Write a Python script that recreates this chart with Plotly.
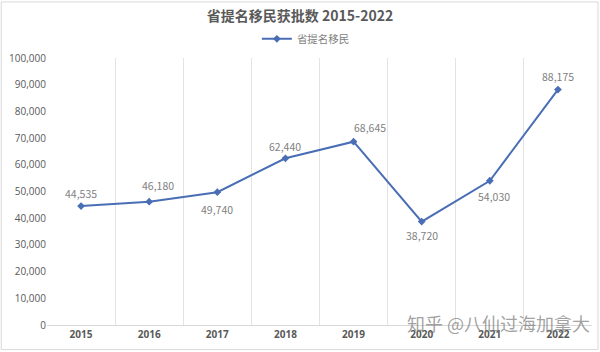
import plotly.graph_objects as go

years = ["2015", "2016", "2017", "2018", "2019", "2020", "2021", "2022"]
values = [44535, 46180, 49740, 62440, 68645, 38720, 54030, 88175]
series_name = "省提名移民"
title_text = "省提名移民获批数 2015-2022"
y_ticks = list(range(0, 100001, 10000))

# label offsets in pixels (ax, ay) and whether to draw a leader line
label_offsets = [(0, -13, False), (9, -16, True), (0, 17, False), (0, -12, False),
                 (16, -14, True), (0, 14, False), (4, 16, True), (0, -13, False)]

LINE = "#4A6EB5"
GRAY = "#7F7F7F"
FONT = "Noto Sans CJK SC, Noto Sans, sans-serif"

fig = go.Figure()
fig.add_trace(go.Scatter(
    x=years, y=values, mode="lines+markers", name=series_name,
    line=dict(color=LINE, width=2),
    marker=dict(symbol="diamond", size=6, color=LINE),
))

for i, (v, (ax, ay, arrow)) in enumerate(zip(values, label_offsets)):
    fig.add_annotation(
        x=i, y=v, text=f"{v:,}", showarrow=True, ax=ax, ay=ay,
        arrowhead=0, arrowwidth=1, arrowcolor="#BFBFBF" if arrow else "rgba(0,0,0,0)",
        standoff=3, startstandoff=6 if arrow else 0,
        font=dict(size=10.5, color=GRAY, family=FONT),
    )

fig.add_annotation(
    xref="paper", yref="paper", x=1.0, y=-0.05, xanchor="right", yanchor="bottom",
    text="知乎 @八仙过海加拿大", showarrow=False,
    font=dict(size=18, color="rgba(120,120,120,0.7)", family=FONT),
)

fig.add_shape(type="rect", xref="paper", yref="paper",
              x0=-0.084, x1=1.011, y0=-0.092, y1=1.21,
              line=dict(color="#D9D9D9", width=1), fillcolor="rgba(0,0,0,0)", layer="below")

fig.update_layout(
    width=600, height=352,
    margin=dict(l=47, r=8, t=58, b=27),
    paper_bgcolor="white", plot_bgcolor="white",
    font=dict(family=FONT, color="#595959"),
    title=dict(text=f"<b>{title_text}</b>", x=0.5, xanchor="center", y=0.955, yanchor="middle",
               font=dict(size=14, color="#595959", family=FONT)),
    showlegend=True,
    legend=dict(orientation="h", x=0.475, xanchor="center", y=1.072, yanchor="middle",
                itemwidth=30,
                font=dict(size=10.5, color=GRAY, family=FONT), bgcolor="rgba(0,0,0,0)"),
    xaxis=dict(type="category", tickson="boundaries", showgrid=True, gridcolor="#E3E3E3",
               range=[-0.5, 7.5], showline=True, linecolor="#D9D9D9", ticks="",
               tickfont=dict(size=10, color="#595959", family="Open Sans, sans-serif", weight="bold")),
    yaxis=dict(range=[0, 100000], tickvals=y_ticks, tickformat=",d", showgrid=False,
               zeroline=False, ticks="", showline=False,
               tickfont=dict(size=10, color="#595959", family="Open Sans, sans-serif")),
)

fig.write_html("out.html")
